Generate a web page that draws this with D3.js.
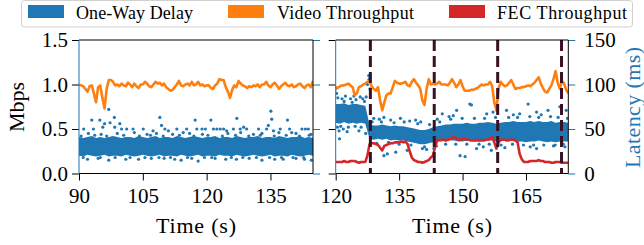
<!DOCTYPE html>
<html><head><meta charset="utf-8">
<script src="https://cdn.jsdelivr.net/npm/d3@7"></script>
<style>body{margin:0;background:#fff} svg{display:block}</style>
</head><body>
<svg id="c" width="644" height="245"></svg>
<script>
// ---------------- DATA ----------------
const legendLabels = ["One-Way Delay", "Video Throughput", "FEC Throughput"];
const mbpsTicks = [0, 0.5, 1.0, 1.5];
const latencyTicks = [0, 50, 100, 150];
const xTicksLeft = [90, 105, 120, 135];
const xTicksRight = [120, 135, 150, 165];
const fecSwitchTimes = [128.2, 143.3, 158.3, 173.4];

// Video throughput (Mbps), sampled every 0.5 s
const videoLeft = [
 1.00,0.99,0.98,0.95,0.92,0.98,0.99,0.90,0.80,0.97, 0.99,0.85,0.73,0.95,1.05,1.05,1.03,0.99,1.00,0.98,
 1.01,0.99,0.98,1.02,1.00,0.97,1.01,0.98,0.96,1.00, 1.00,1.03,1.01,0.98,0.97,1.00,1.03,1.01,1.02,0.99,
 1.01,0.97,0.95,0.93,0.94,0.97,1.00,1.04,0.99,0.98, 1.00,1.01,0.99,1.03,0.99,1.00,1.03,0.99,1.00,0.98,
 0.99,0.99,0.96,0.95,0.99,1.01,1.06,1.05,1.05,0.97, 0.92,0.85,0.94,0.99,0.97,1.04,1.01,0.99,0.98,0.96,
 0.98,0.97,0.99,0.98,1.00,0.97,1.00,1.00,1.03,0.99, 0.97,1.00,1.02,0.99,0.95,0.98,1.00,1.02,0.99,0.98,
 1.00,0.97,0.98,1.00,1.01,0.98,0.96,0.99,1.00,0.97, 1.04];
const videoRight = [
 0.97,0.96,0.98,0.99,0.99,1.00,1.01,0.99,0.97,0.88, 0.90,0.97,0.98,1.00,1.01,1.03,1.04,0.98,0.95,0.93,
 0.97,0.82,0.71,0.80,0.88,0.90,0.90,0.97,1.04,1.02, 1.01,1.01,1.02,1.03,0.99,0.98,1.03,1.06,1.02,0.99,
 0.95,0.82,0.77,0.95,1.06,1.00,1.01,1.00,1.01,1.03, 1.00,1.00,1.00,0.99,1.02,1.06,1.02,0.97,1.00,1.05,
 0.98,0.93,0.93,0.93,0.94,0.94,0.95,0.96,0.98,1.00, 0.99,1.00,1.00,1.03,0.98,0.80,0.71,0.95,1.03,1.00,
 0.98,0.99,1.02,1.05,1.00,0.95,0.96,0.96,0.97,0.97, 0.98,0.99,0.98,1.00,1.02,1.05,1.08,1.01,0.96,0.92,
 0.91,0.95,0.99,1.06,1.15,1.02,0.95,1.04,1.01,0.94, 0.90];
// FEC throughput (Mbps), sampled every 0.5 s
const fecRight = [
 0.13,0.13,0.13,0.13,0.14,0.13,0.13,0.14,0.14,0.14, 0.13,0.12,0.13,0.13,0.13,0.20,0.33,0.34,0.34,0.33,
 0.32,0.29,0.26,0.31,0.32,0.33,0.34,0.34,0.35,0.35, 0.35,0.36,0.35,0.36,0.33,0.25,0.18,0.15,0.14,0.13,
 0.13,0.12,0.13,0.14,0.15,0.18,0.20,0.30,0.37,0.38, 0.38,0.38,0.37,0.38,0.39,0.40,0.41,0.40,0.38,0.38,
 0.39,0.39,0.38,0.38,0.37,0.37,0.37,0.38,0.37,0.37, 0.37,0.38,0.38,0.39,0.41,0.35,0.28,0.35,0.38,0.38,
 0.38,0.37,0.38,0.38,0.38,0.37,0.35,0.22,0.16,0.13, 0.13,0.13,0.14,0.14,0.14,0.14,0.15,0.14,0.14,0.13,
 0.13,0.13,0.12,0.12,0.13,0.13,0.13,0.12,0.12,0.12, 0.12];

// One-way delay (ms): dense core band per second, plus scattered samples
const delayLowLeft = [
 20,19,21,20,19,20,21,19,20,20, 19,21,20,19,20,21,20,19,20,21, 19,20,20,19,21,20,19,20,21,19,
 20,20,19,21,20,20,19,21,20,19, 20,21,20,19,20,21,19,20,20,19, 21,20,19,20,21,20];
const delayHighLeft = [
 41,40,41,42,40,41,40,41,42,41, 40,41,41,40,42,41,40,41,42,40, 41,41,40,42,41,40,41,42,41,40,
 41,41,42,40,41,41,40,42,41,40, 41,41,42,40,41,41,40,42,41,40, 41,41,42,40,41,40];
const delayLowRight = [
 57,56,58,56,57,56,57,56,39,38, 39,38,39,37,38,37,37,36,35,34, 33,33,34,35,36,36,37,37,37,36,
 36,37,37,36,36,37,37,37,36,36, 37,36,37,36,36,35,36,36,37,36, 35,36,35,36,36,36];
const delayHighRight = [
 78,78,79,77,78,78,77,76,55,54, 54,55,54,53,54,53,53,52,51,50, 49,49,50,52,53,54,55,55,56,56,
 56,57,56,56,57,57,58,57,56,57, 58,58,59,58,58,58,59,58,59,58, 58,59,57,58,58,57];
const delayDotsLeft = [
 [91.1,50],[93.0,60],[93.4,50],[94.9,60],[95.6,52],[96.0,56],[97.0,72],[98.3,63],[97.3,57],[98.4,52],
 [99.6,56],[100,50],[101.2,50],[102.7,50],[105.1,50],[107.4,48],[109,63],[109.4,54],[110.2,50],[111,48],
 [113,50],[115.3,50],[117.3,60],[117.7,50],[118.9,50],[119.7,50],[121,60],[121.6,50],[122.4,50],[123.2,50],
 [124,50],[124.7,48],[126.3,50],[127.1,62],[127.9,50],[128.7,52],[129.4,50],[132.2,50],[134.1,50],[134.5,54],
 [135.1,70],[135.3,61],[135.7,48],[137.3,50],[139,60],[139.5,50],[140,46],[142.4,50],[143.2,50],[143.9,50],
 [92.2,45],[95.2,44],[99,45],[103,46],[106,44],[108.2,45],[112,44],[114.5,46],[116,45],[119,44],
 [125,45],[128,46],[131,44],[133,45],[137,46],[141,45],[144.5,44],
 [90.5,42],[93.7,43],[96.5,42],[100.5,43],[104.2,42],[106.8,43],[109.8,42],[113.6,43],[117,42],[120.3,43],
 [123.7,42],[126.8,43],[129.9,42],[132.6,43],[135.9,42],[138.7,43],[141.8,42],[144.1,43],
 [92,16],[94.5,17],[97,15],[101,16],[104,16],[107,17],[110,17],[112.5,16],[114,15],[116.5,17],
 [118,14],[122,17],[124.5,16],[127,16],[130,17],[133,15],[136,16],[138,16],[141,17],[143,16],[144.6,15],
 [91,18],[95,18],[98.5,18],[102,18],[105.5,18],[108.8,18],[111.5,18],[115.5,18],[119.5,18],[121.2,18],
 [125.8,18],[128.5,18],[131.7,18],[134.8,18],[137.6,18],[140.3,18],[142.8,18]];
const delayDotsRight = [
 [120.1,96],[120.2,90],[120.5,85],[120.8,48],[120.9,39],[121.5,84],[122.3,87],[122.7,47],[123.5,84],[124.3,87],
 [124.8,83],[125.5,48],[125.8,86],[126.4,84],[127.1,45],[127.2,86],[127.5,100],[127.8,110],[127.9,106],[128.1,95],
 [120.4,52],[121.2,53],[122,81],[123,52],[123.9,80],[124.6,53],[126,52],[126.8,81],[127.6,53],[121.8,50],
 [129,62],[130.3,61],[131.4,63],[131.4,20],[132.2,22],[133,60],[134.2,24],[135.3,62],[136.9,26],[137.5,59],
 [138.9,60],[140.1,58],[140.5,28],[141.5,27],[143.2,28],[144,61],[145.2,67],[146.8,64],[147.8,65],[148.6,71],
 [149.4,20],[150.6,19],[151.7,78],[152.1,77],[153.3,28],[154.9,30],[155.7,67],[156.8,26],[157.2,69],[160,29],
 [160.4,71],[162,66],[163.5,67],[165.5,78],[166,30],[167.5,69],[167.5,28],[168.6,66],[170.2,71],[171.5,31],
 [173,75],[174.2,30],[174.5,71],
 [128.6,58],[129.7,34],[130.8,58],[132.5,35],[133.8,57],[135,33],[136.2,58],[137.8,32],[139.4,56],[141,30],
 [142.2,55],[143.8,31],[144.6,58],[146,33],[147.2,61],[148.4,33],[149.9,62],[151,33],[152.8,62],[153.9,33],
 [155.2,62],[156.3,33],[157.8,63],[159.1,32],[160.9,63],[161.8,33],[163,63],[164.4,32],[165.9,64],[166.8,32],
 [168,63],[169.2,32],[170.8,64],[171.9,32],[172.6,63],[173.8,33],[174.8,62]];

// ---------------- DRAWING ----------------
const FONT = '"Liberation Serif","Times New Roman",serif';
const BLUE = '#1f77b4', ORANGE = '#ff7f0e', RED = '#d62728', DASHC = '#3a0f22';
const svg = d3.select('#c');
const yM = d3.scaleLinear([0, 1.5], [173.5, 40]);
const yD = d3.scaleLinear([0, 150], [173.5, 40]);

function styleAxis(g, color) {
  g.select('.domain').remove();
  g.selectAll('.tick line').attr('stroke', color).attr('stroke-width', 1);
  g.selectAll('.tick text').attr('fill', '#000').style('font-family', FONT).style('font-size', '21px');
}

function panel(id, domain, range, xTicks, video, fec, low, high, dots, opts) {
  const x = d3.scaleLinear(domain, range);
  const g = svg.append('g');
  const cid = 'clip' + id;
  svg.append('clipPath').attr('id', cid).append('rect')
    .attr('x', range[0]).attr('y', 40).attr('width', range[1] - range[0]).attr('height', 133.5);
  const plot = g.append('g').attr('clip-path', `url(#${cid})`);

  const secT = d3.range(domain[0], domain[1] + 0.01, 1);
  const halfT = d3.range(domain[0], domain[1] + 0.01, 0.5);

  // delay band + samples (latency axis)
  plot.append('path')
    .datum(secT.map((t, i) => [t, low[i], high[i]]))
    .attr('fill', BLUE)
    .attr('d', d3.area().x(d => x(d[0])).y0(d => yD(d[1])).y1(d => yD(d[2])));
  plot.append('g').selectAll('circle').data(dots).join('circle')
    .attr('cx', d => x(d[0])).attr('cy', d => yD(d[1])).attr('r', 1.6).attr('fill', BLUE);

  const line = d3.line().x(d => x(d[0])).y(d => yM(d[1]));
  plot.append('path').datum(halfT.map((t, i) => [t, video[i]]))
    .attr('fill', 'none').attr('stroke', ORANGE).attr('stroke-width', 2.6)
    .attr('stroke-linejoin', 'round').attr('d', line);
  if (fec) {
    plot.append('path').datum(halfT.map((t, i) => [t, fec[i]]))
      .attr('fill', 'none').attr('stroke', RED).attr('stroke-width', 2.6)
      .attr('stroke-linejoin', 'round').attr('d', line);
  }
  if (opts.switches) {
    plot.append('g').selectAll('line').data(opts.switches).join('line')
      .attr('x1', d => x(d)).attr('x2', d => x(d)).attr('y1', 40).attr('y2', 173.5)
      .attr('stroke', DASHC).attr('stroke-width', 3).attr('stroke-dasharray', '11,5');
  }

  // axes
  const ax = g.append('g').attr('transform', `translate(0,173.5)`)
    .call(d3.axisBottom(x).tickValues(xTicks).tickSize(7).tickPadding(8).tickFormat(d3.format('d')));
  styleAxis(ax, '#000');
  const al = g.append('g').attr('transform', `translate(${range[0]},0)`)
    .call(d3.axisLeft(yM).tickValues(mbpsTicks).tickSize(7).tickPadding(4)
      .tickFormat(opts.leftLabels ? d3.format('.1f') : () => ''));
  styleAxis(al, '#000');
  const ar = g.append('g').attr('transform', `translate(${range[1]},0)`)
    .call(d3.axisRight(yD).tickValues(latencyTicks).tickSize(7).tickPadding(9)
      .tickFormat(opts.rightLabels ? d3.format('d') : () => ''));
  styleAxis(ar, BLUE);

  // spines
  const sp = g.append('g').attr('fill', 'none').attr('stroke-width', 1);
  sp.append('line').attr('x1', range[0]).attr('x2', range[1]).attr('y1', 40).attr('y2', 40).attr('stroke', '#000');
  sp.append('line').attr('x1', range[0]).attr('x2', range[1]).attr('y1', 173.5).attr('y2', 173.5).attr('stroke', '#000');
  sp.append('line').attr('x1', range[1]).attr('x2', range[1]).attr('y1', 40).attr('y2', 173.5).attr('stroke', '#000');
  sp.append('line').attr('x1', range[0]).attr('x2', range[0]).attr('y1', 40).attr('y2', 173.5).attr('stroke', BLUE);

  // x label
  g.append('text').attr('x', (range[0] + range[1]) / 2).attr('y', 233)
    .attr('text-anchor', 'middle').style('font-family', FONT).style('font-size', '22px')
    .attr('textLength', 80).attr('lengthAdjust', 'spacing').text('Time (s)');
}

panel('L', [90, 145], [79, 313], xTicksLeft, videoLeft, null, delayLowLeft, delayHighLeft, delayDotsLeft,
  { leftLabels: true, rightLabels: false });
panel('R', [120, 175], [335.7, 568.3], xTicksRight, videoRight, fecRight, delayLowRight, delayHighRight, delayDotsRight,
  { leftLabels: false, rightLabels: true, switches: fecSwitchTimes });

// y labels
svg.append('text').attr('transform', 'translate(24,107) rotate(-90)')
  .attr('text-anchor', 'middle').style('font-family', FONT).style('font-size', '22px')
  .text('Mbps');
svg.append('text').attr('transform', 'translate(640,107.5) rotate(-90)')
  .attr('text-anchor', 'middle').attr('fill', BLUE).style('font-family', FONT).style('font-size', '22px')
  .attr('textLength', 121).attr('lengthAdjust', 'spacing').text('Latency (ms)');

// legend
const lg = svg.append('g');
lg.append('rect').attr('x', 21.5).attr('y', 0.5).attr('width', 611).attr('height', 26.5).attr('rx', 3)
  .attr('fill', '#fff').attr('fill-opacity', 0.8).attr('stroke', '#d0d0d0').attr('stroke-width', 1);
const legendColors = [BLUE, ORANGE, RED];
const legendPatchX = [28, 228, 449];
const legendTextX = [76, 277, 497];
const legendTextW = [117, 137, 130];
legendLabels.forEach((lab, i) => {
  lg.append('rect').attr('x', legendPatchX[i]).attr('y', 5).attr('width', 36).attr('height', 13).attr('fill', legendColors[i]);
  lg.append('text').attr('x', legendTextX[i]).attr('y', 18.5).style('font-family', FONT).style('font-size', '18px')
    .attr('textLength', legendTextW[i]).attr('lengthAdjust', 'spacing').text(lab);
});
</script>
</body></html>
